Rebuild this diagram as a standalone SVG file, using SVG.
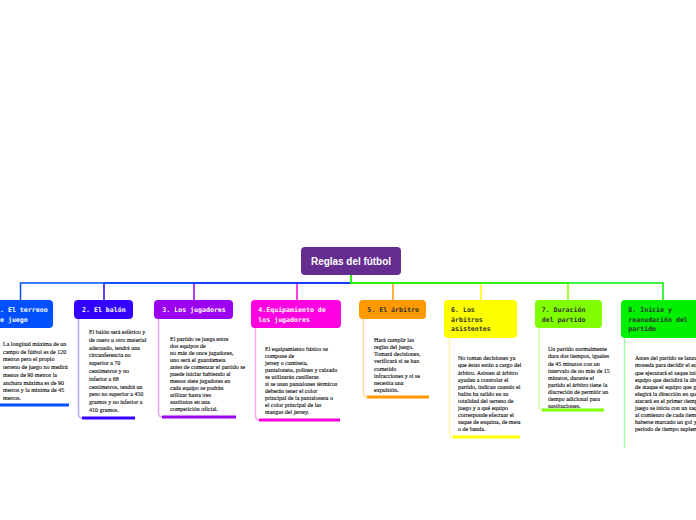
<svg xmlns="http://www.w3.org/2000/svg" width="696" height="520" viewBox="0 0 696 520">
<style>
.hd{font-family:"DejaVu Sans Mono",monospace;font-size:6.6px;font-weight:bold;fill:#fff}
.hdk{fill:#333}
.bd{font-family:"Liberation Serif",serif;font-size:6px;fill:#111;stroke:#111;stroke-width:0.12}
.cn{fill:none;stroke-width:1.5}
.vl{fill:none;stroke-width:1.5;stroke-opacity:0.35}
.ul{fill:none;stroke-width:3}
</style>
<rect width="696" height="520" fill="#fff"/>
<g id="connectors">
<path class="cn" stroke="#ff00e0" d="M351 275V283H297V300"/>
<path class="cn" stroke="#9c00f0" d="M351 275V283H194V300"/>
<path class="cn" stroke="#3300ff" d="M351 275V283H104V300"/>
<path class="cn" stroke="#0050ff" d="M351 275V283H20.5V300"/>
<path class="cn" stroke="#ff9900" d="M351 275V283H393V300"/>
<path class="cn" stroke="#ffff00" d="M351 275V283H481V300"/>
<path class="cn" stroke="#80ff00" d="M351 275V283H568V300"/>
<path class="cn" stroke="#00f000" d="M351 275V283H663V300"/>
</g>
<g id="root">
<rect x="301" y="247" width="100" height="28" rx="4" fill="#662d91"/>
<text x="351" y="265" text-anchor="middle" font-family="Liberation Sans, sans-serif" font-weight="bold" font-size="10.5" fill="#fff" textLength="80" lengthAdjust="spacingAndGlyphs">Reglas del fútbol</text>
</g>
<g id="n1">
<rect x="-12" y="300" width="65" height="28" rx="4" fill="#0050ff"/>
<text class="hd" x="-4" y="312.3">1. El terreno<tspan x="-4" dy="9.4">de juego</tspan></text>
<path class="ul" stroke="#0050ff" d="M-5 405H69"/>
<text class="bd" x="3" y="346">La longitud máxima de un<tspan x="3" dy="7.7">campo de fútbol es de 120</tspan><tspan x="3" dy="7.7">metros pero el propio</tspan><tspan x="3" dy="7.7">terreno de juego no medirá</tspan><tspan x="3" dy="7.7">menos de 90 metros la</tspan><tspan x="3" dy="7.7">anchura máxima es de 90</tspan><tspan x="3" dy="7.7">metros y la mínima de 45</tspan><tspan x="3" dy="7.7">metros.</tspan></text>
</g>
<g id="n2">
<rect x="74" y="300" width="59" height="19" rx="4" fill="#3300ff"/>
<text class="hd" x="82" y="312.3">2. El balón</text>
<path class="vl" stroke="#3300ff" d="M78.5 319V414Q78.5 418 82.5 418"/>
<path class="ul" stroke="#3300ff" d="M82 418H135"/>
<text class="bd" x="89" y="334">El balón será esférico y<tspan x="89" dy="7.8">de cuero u otro material</tspan><tspan x="89" dy="7.8">adecuado, tendrá una</tspan><tspan x="89" dy="7.8">circunferencia no</tspan><tspan x="89" dy="7.8">superior a 70</tspan><tspan x="89" dy="7.8">centímetros y no</tspan><tspan x="89" dy="7.8">inferior a 68</tspan><tspan x="89" dy="7.8">centímetros, tendrá un</tspan><tspan x="89" dy="7.8">peso no superior a 450</tspan><tspan x="89" dy="7.8">gramos y no inferior a</tspan><tspan x="89" dy="7.8">410 gramos.</tspan></text>
</g>
<g id="n3">
<rect x="154" y="300" width="79" height="19" rx="4" fill="#9c00f0"/>
<text class="hd" x="162.3" y="312.3">3. Los jugadores</text>
<path class="vl" stroke="#9c00f0" d="M158.5 319V413Q158.5 417 162.5 417"/>
<path class="ul" stroke="#9c00f0" d="M162 417H236"/>
<text class="bd" x="170" y="341">El partido se juega entre<tspan x="170" dy="7">dos equipos de</tspan><tspan x="170" dy="7">no más de once jugadores,</tspan><tspan x="170" dy="7">uno será el guardameta</tspan><tspan x="170" dy="7">antes de comenzar el partido se</tspan><tspan x="170" dy="7">puede iniciar habiendo al</tspan><tspan x="170" dy="7">menos siete jugadores en</tspan><tspan x="170" dy="7">cada equipo se podrán</tspan><tspan x="170" dy="7">utilizar hasta tres</tspan><tspan x="170" dy="7">sustitutos en una</tspan><tspan x="170" dy="7">competición oficial.</tspan></text>
</g>
<g id="n4">
<rect x="251" y="300" width="90" height="28" rx="4" fill="#ff00e0"/>
<text class="hd" x="258.3" y="312.3">4.Equipamiento de<tspan x="258.3" dy="9.4">los jugadores</tspan></text>
<path class="vl" stroke="#ff00e0" d="M255.5 328V416Q255.5 420 259.5 420"/>
<path class="ul" stroke="#ff00e0" d="M259 420H340"/>
<text class="bd" x="265" y="351">El equipamiento básico se<tspan x="265" dy="7">compone de</tspan><tspan x="265" dy="7">jersey o camiseta,</tspan><tspan x="265" dy="7">pantaloneta, polines y calzado</tspan><tspan x="265" dy="7">se utilizarán canilleras</tspan><tspan x="265" dy="7">si se usan pantalones térmicos</tspan><tspan x="265" dy="7">deberán tener el color</tspan><tspan x="265" dy="7">principal de la pantaloneta o</tspan><tspan x="265" dy="7">el color principal de las</tspan><tspan x="265" dy="7">mangas del jersey.</tspan></text>
</g>
<g id="n5">
<rect x="359" y="300" width="67" height="19" rx="4" fill="#ff9900"/>
<text class="hd hdk" x="367.3" y="312.3">5. El árbitro</text>
<path class="vl" stroke="#ff9900" d="M363.5 319V393Q363.5 397 367.5 397"/>
<path class="ul" stroke="#ff9900" d="M367 397H429"/>
<text class="bd" x="374" y="342">Hará cumplir las<tspan x="374" dy="7.14">reglas del juego.</tspan><tspan x="374" dy="7.14">Tomará decisiones,</tspan><tspan x="374" dy="7.14">verificará si se han</tspan><tspan x="374" dy="7.14">cometido</tspan><tspan x="374" dy="7.14">infracciones y si se</tspan><tspan x="374" dy="7.14">necesita una</tspan><tspan x="374" dy="7.14">expulsión.</tspan></text>
</g>
<g id="n6">
<rect x="444" y="300" width="73" height="38" rx="4" fill="#ffff00"/>
<text class="hd hdk" x="451" y="312.3">6. Los<tspan x="451" dy="9.5">árbitros</tspan><tspan x="451" dy="9.5">asistentes</tspan></text>
<path class="vl" stroke="#e6e600" d="M449.5 338V433Q449.5 437 453.5 437"/>
<path class="ul" stroke="#ffff00" d="M453 437H520"/>
<text class="bd" x="458" y="360.3">No toman decisiones ya<tspan x="458" dy="7.1">que éstas están a cargo del</tspan><tspan x="458" dy="7.1">árbitro. Asisten al árbitro</tspan><tspan x="458" dy="7.1">ayudan a controlar el</tspan><tspan x="458" dy="7.1">partido, indican cuando el</tspan><tspan x="458" dy="7.1">balón ha salido en su</tspan><tspan x="458" dy="7.1">totalidad del terreno de</tspan><tspan x="458" dy="7.1">juego y a qué equipo</tspan><tspan x="458" dy="7.1">corresponde efectuar el</tspan><tspan x="458" dy="7.1">saque de esquina, de meta</tspan><tspan x="458" dy="7.1">o de banda.</tspan></text>
</g>
<g id="n7">
<rect x="535" y="300" width="67" height="28" rx="4" fill="#80ff00"/>
<text class="hd hdk" x="541.7" y="312.3">7. Duración<tspan x="541.7" dy="9.4">del partido</tspan></text>
<path class="vl" stroke="#80ff00" d="M539 328V406Q539 410 543 410"/>
<path class="ul" stroke="#80ff00" d="M542 410H604"/>
<text class="bd" x="548" y="351.3">Un partido normalmente<tspan x="548" dy="7.1">dura dos tiempos, iguales</tspan><tspan x="548" dy="7.1">de 45 minutos con un</tspan><tspan x="548" dy="7.1">intervalo de no más de 15</tspan><tspan x="548" dy="7.1">minutos, durante el</tspan><tspan x="548" dy="7.1">partido el árbitro tiene la</tspan><tspan x="548" dy="7.1">discreción de permitir un</tspan><tspan x="548" dy="7.1">tiempo adicional para</tspan><tspan x="548" dy="7.1">sustituciones.</tspan></text>
</g>
<g id="n8">
<rect x="621" y="300" width="84" height="38" rx="4" fill="#00f000"/>
<text class="hd hdk" x="628.3" y="312.3">8. Inicio y<tspan x="628.3" dy="9.5">reanudación del</tspan><tspan x="628.3" dy="9.5">partido</tspan></text>
<path class="vl" stroke="#00f000" d="M624.5 338V448"/>
<text class="bd" x="635" y="360.3">Antes del partido se lanzará una<tspan x="635" dy="7.1">moneda para decidir el equipo</tspan><tspan x="635" dy="7.1">que ejecutará el saque inicial</tspan><tspan x="635" dy="7.1">equipo que decidirá la dirección</tspan><tspan x="635" dy="7.1">de ataque el equipo que gane</tspan><tspan x="635" dy="7.1">elegirá la dirección en que</tspan><tspan x="635" dy="7.1">atacará en el primer tiempo</tspan><tspan x="635" dy="7.1">juego se inicia con un saque</tspan><tspan x="635" dy="7.1">al comienzo de cada tiempo</tspan><tspan x="635" dy="7.1">haberse marcado un gol y el</tspan><tspan x="635" dy="7.1">periodo de tiempo suplementario</tspan></text>
</g>
</svg>
